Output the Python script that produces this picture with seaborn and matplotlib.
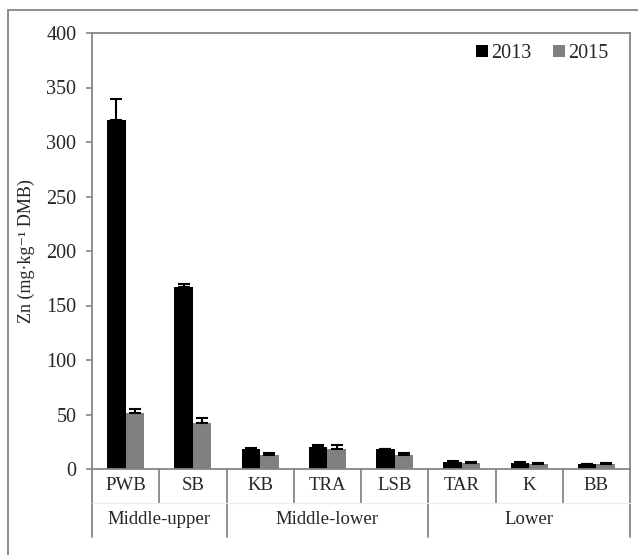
import matplotlib
matplotlib.use("Agg")
import matplotlib.pyplot as plt
import seaborn as sns
import pandas as pd
from matplotlib.patches import Patch, Rectangle
from matplotlib.lines import Line2D

# Data
sites = ["PWB", "SB", "KB", "TRA", "LSB", "TAR", "K", "BB"]
groups = ["Middle-upper", "Middle-lower", "Lower"]
group_sizes = [2, 3, 3]
zn_2013 = [320, 167, 18, 20, 18, 6.5, 5.9, 4.3]
err_2013 = [19, 3, 1, 2, 0.7, 0.6, 0.5, 0.5]
zn_2015 = [51, 42, 13, 18, 13, 5.9, 4.7, 4.7]
err_2015 = [4, 4.5, 2, 4, 2, 0.5, 0.5, 0.5]
years = ["2013", "2015"]
colors = {"2013": "#000000", "2015": "#808080"}

df = pd.DataFrame({
    "site": sites * 2,
    "year": ["2013"] * len(sites) + ["2015"] * len(sites),
    "zn": zn_2013 + zn_2015,
})

sns.set_style("white")
plt.rcParams["font.family"] = ["Liberation Serif", "DejaVu Serif"]
grey = "#868686"

fig = plt.figure(figsize=(6.38, 5.55), dpi=100)
ax = fig.add_axes([92 / 638, 1 - 469 / 555, (630 - 92) / 638, (469 - 33) / 555])

sns.barplot(data=df, x="site", y="zn", hue="year", palette=colors,
            width=0.55, gap=0, errorbar=None, ax=ax, legend=False,
            saturation=1, linewidth=0)

# error bars (upper half only)
for cont, errs in zip(ax.containers, [err_2013, err_2015]):
    xs = [b.get_x() + b.get_width() / 2 for b in cont]
    hs = [b.get_height() for b in cont]
    ax.errorbar(xs, hs, yerr=[[0] * len(errs), errs], fmt="none",
                ecolor="black", elinewidth=1.5, capsize=4.3, capthick=1.5)

ax.set_ylim(0, 400)
ax.set_xlim(-0.5, len(sites) - 0.5)
ax.set_yticks(range(0, 401, 50))
ax.tick_params(axis="y", direction="out", length=4.3, width=1.2, color=grey,
               labelsize=14.5, pad=7, left=True)
ax.set_ylabel("Zn (mg·kg⁻¹ DMB)", fontsize=13, labelpad=8)
ax.set_xlabel("")
for s in ax.spines.values():
    s.set_color(grey)
    s.set_linewidth(1.3)

# multi-level category axis
ax.set_xticks([])
trans = ax.get_xaxis_transform()
row1 = -34 / 436
row2 = -68 / 436
for i, name in enumerate(sites):
    ax.text(i, row1 / 2, name, transform=trans, ha="center", va="center",
            fontsize=13.5)
bounds = [-0.5]
for n in group_sizes:
    bounds.append(bounds[-1] + n)
for k, g in enumerate(groups):
    mid = (bounds[k] + bounds[k + 1]) / 2
    ax.text(mid, (row1 + row2) / 2, g, transform=trans, ha="center",
            va="center", fontsize=13.5)
for i in range(len(sites) + 1):
    xb = i - 0.5
    low = row2 if xb in bounds else row1
    ax.add_line(Line2D([xb, xb], [0, low], transform=trans, color=grey,
                       lw=1.3, clip_on=False))
ax.add_line(Line2D([-0.5, len(sites) - 0.5], [row1, row1], transform=trans,
                   color="#ececec", lw=0.8, clip_on=False))

# legend
handles = [Patch(facecolor=colors[y], edgecolor="none", label=y) for y in years]
ax.legend(handles=handles, loc="upper right", ncol=2, frameon=False,
          fontsize=14.5, handlelength=0.6, handleheight=0.6, handletextpad=0.15,
          columnspacing=1.1, borderaxespad=0, bbox_to_anchor=(0.975, 0.993))

# chart area border (cropped at right and bottom)
fig.patches.append(Rectangle((8 / 638, -0.1), 1.2, 1 - 10 / 555 + 0.1,
                             transform=fig.transFigure, fill=False,
                             edgecolor=grey, lw=1.3))

fig.savefig("out.png", dpi=100)
